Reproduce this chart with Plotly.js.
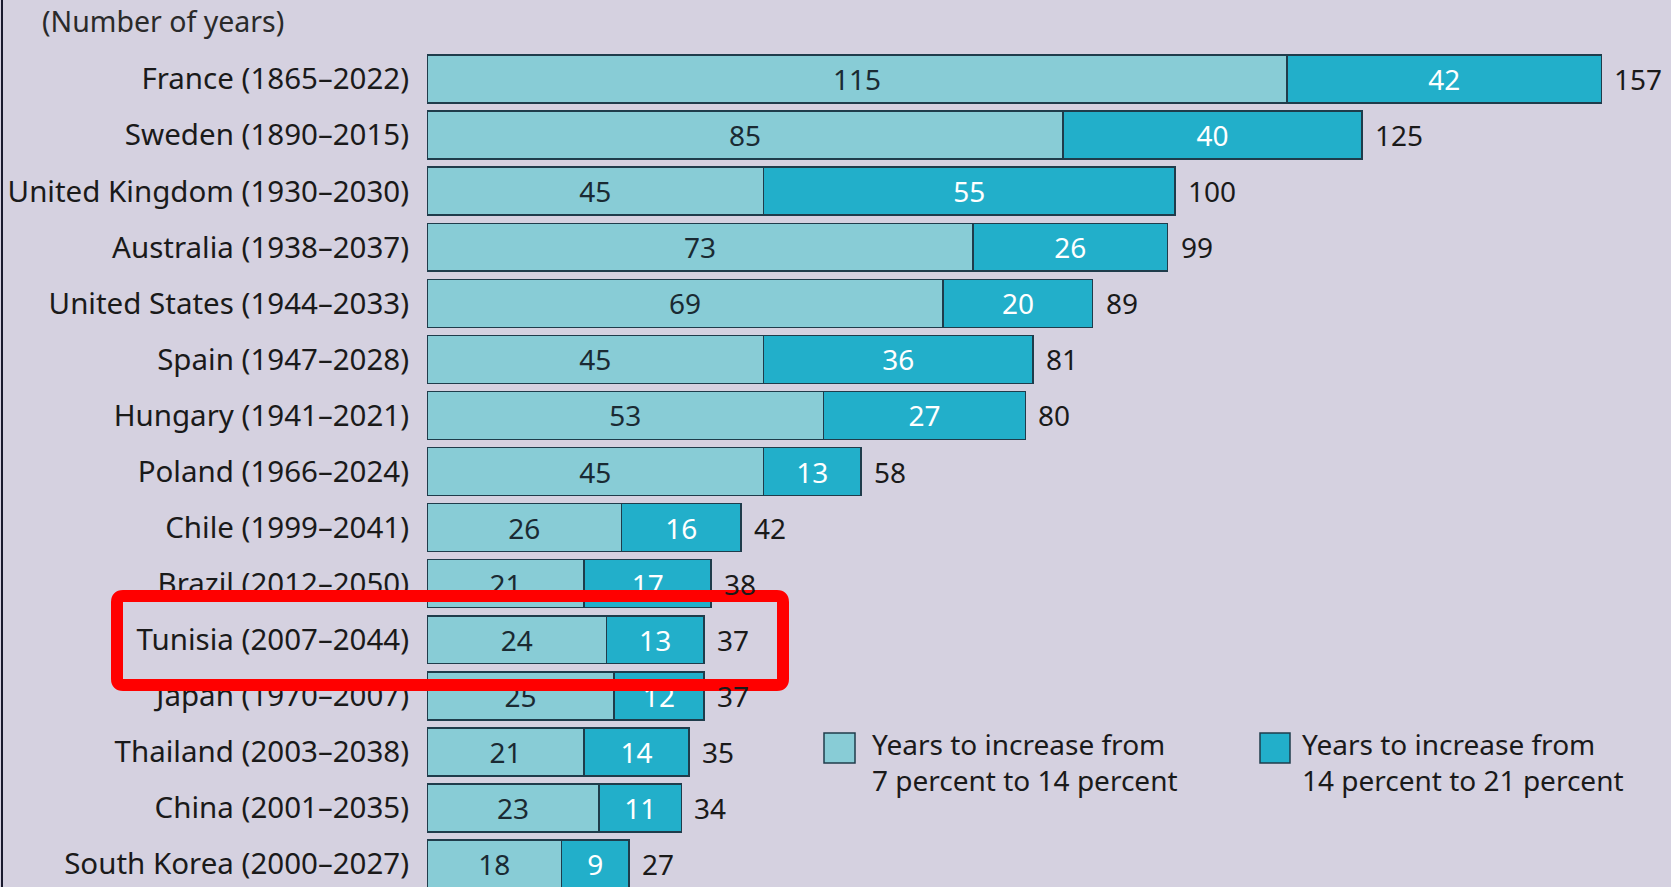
<!DOCTYPE html>
<html>
<head>
<meta charset="utf-8">
<script src="https://cdn.plot.ly/plotly-3.0.1.min.js"></script>
<style>html,body{margin:0;padding:0;background:#d5d1e0;}#chart{width:1671px;height:887px;}</style>
</head>
<body>
<div id="chart"></div>
<script>
// ---- Data ----
const countries = [
  "France (1865–2022)", "Sweden (1890–2015)", "United Kingdom (1930–2030)",
  "Australia (1938–2037)", "United States (1944–2033)", "Spain (1947–2028)",
  "Hungary (1941–2021)", "Poland (1966–2024)", "Chile (1999–2041)",
  "Brazil (2012–2050)", "Tunisia (2007–2044)", "Japan (1970–2007)",
  "Thailand (2003–2038)", "China (2001–2035)", "South Korea (2000–2027)"
];
const years7to14  = [115, 85, 45, 73, 69, 45, 53, 45, 26, 21, 24, 25, 21, 23, 18];
const years14to21 = [42, 40, 55, 26, 20, 36, 27, 13, 16, 17, 13, 12, 14, 11, 9];
const totals      = [157, 125, 100, 99, 89, 81, 80, 58, 42, 38, 37, 37, 35, 34, 27];
const legendLabels = [
  "Years to increase from<br>7 percent to 14 percent",
  "Years to increase from<br>14 percent to 21 percent"
];
const unitLabel = "(Number of years)";

// ---- Style ----
const W = 1671, H = 887, L = 427;
const bg = "#d5d1e0", light = "#88ccd6", dark = "#22afca", edge = "#1f3c4b";
const font = "'Noto Sans', 'Open Sans', sans-serif";
const px = x => (x - L) / (W - L);
const py = y => 1 - y / H;

const traces = [
  {
    type: "bar", orientation: "h", y: countries, x: years7to14,
    marker: {color: light, line: {color: edge, width: 1.5}},
    text: years7to14.map(String), textposition: "inside", insidetextanchor: "middle",
    textangle: 0, constraintext: "none",
    textfont: {family: font, size: 28, color: "#1a2a33"},
    hoverinfo: "x+y", showlegend: false
  },
  {
    type: "bar", orientation: "h", y: countries, x: years14to21,
    marker: {color: dark, line: {color: edge, width: 1.5}},
    text: years14to21.map(String), textposition: "inside", insidetextanchor: "middle",
    textangle: 0, constraintext: "none",
    textfont: {family: font, size: 28, color: "#ffffff"},
    hoverinfo: "x+y", showlegend: false
  }
];

const annotations = countries.map((c, i) => ({
  x: totals[i], y: c, xref: "x", yref: "y", text: String(totals[i]),
  showarrow: false, xanchor: "left", xshift: 11,
  font: {family: font, size: 28, color: "#1a1a1a"}
}));
annotations.push({
  x: px(40), y: py(21), xref: "paper", yref: "paper", text: unitLabel,
  showarrow: false, xanchor: "left", yanchor: "middle",
  font: {family: font, size: 28.5, color: "#2a2a2a"}
});
const legendX = [870, 1300];
legendLabels.forEach((t, k) => {
  annotations.push({
    x: px(legendX[k]), y: py(762), xref: "paper", yref: "paper", text: t,
    showarrow: false, xanchor: "left", yanchor: "middle", align: "left",
    font: {family: font, size: 28, color: "#1a1a1a"}
  });
});

function roundRect(x0, y0, x1, y1, r) {
  const X = v => px(v), Y = v => py(v);
  return `M ${X(x0 + r)} ${Y(y0)} L ${X(x1 - r)} ${Y(y0)} Q ${X(x1)} ${Y(y0)} ${X(x1)} ${Y(y0 + r)} ` +
         `L ${X(x1)} ${Y(y1 - r)} Q ${X(x1)} ${Y(y1)} ${X(x1 - r)} ${Y(y1)} ` +
         `L ${X(x0 + r)} ${Y(y1)} Q ${X(x0)} ${Y(y1)} ${X(x0)} ${Y(y1 - r)} ` +
         `L ${X(x0)} ${Y(y0 + r)} Q ${X(x0)} ${Y(y0)} ${X(x0 + r)} ${Y(y0)} Z`;
}

const shapes = [
  {type: "line", xref: "paper", yref: "paper", x0: px(2), x1: px(2), y0: 0, y1: 1,
   line: {color: "#1a1a2e", width: 2}},
  {type: "rect", xref: "paper", yref: "paper", x0: px(824), x1: px(855), y0: py(733), y1: py(763),
   fillcolor: light, line: {color: edge, width: 1.5}},
  {type: "rect", xref: "paper", yref: "paper", x0: px(1260), x1: px(1290), y0: py(733), y1: py(763),
   fillcolor: dark, line: {color: edge, width: 1.5}},
  {type: "path", xref: "paper", yref: "paper", path: roundRect(117, 596, 783, 685, 6),
   line: {color: "#ff0000", width: 12}, fillcolor: "rgba(0,0,0,0)", layer: "above"}
];

const layout = {
  width: W, height: H,
  paper_bgcolor: bg, plot_bgcolor: bg,
  margin: {l: L, r: 0, t: 0, b: 0, pad: 0},
  barmode: "stack", bargap: 0.145,
  xaxis: {range: [0, (W - L) / 7.48], showgrid: false, zeroline: false, showticklabels: false,
          showline: false, ticks: "", fixedrange: true},
  yaxis: {type: "category", range: [14.41, -1.41], showgrid: false, zeroline: false,
          showline: false, ticks: "", ticklabelstandoff: 17,
          tickfont: {family: font, size: 29.5, color: "#1a1a1a"}},
  showlegend: false,
  annotations: annotations,
  shapes: shapes
};

Plotly.newPlot("chart", traces, layout, {displayModeBar: false, staticPlot: true});
</script>
</body>
</html>
